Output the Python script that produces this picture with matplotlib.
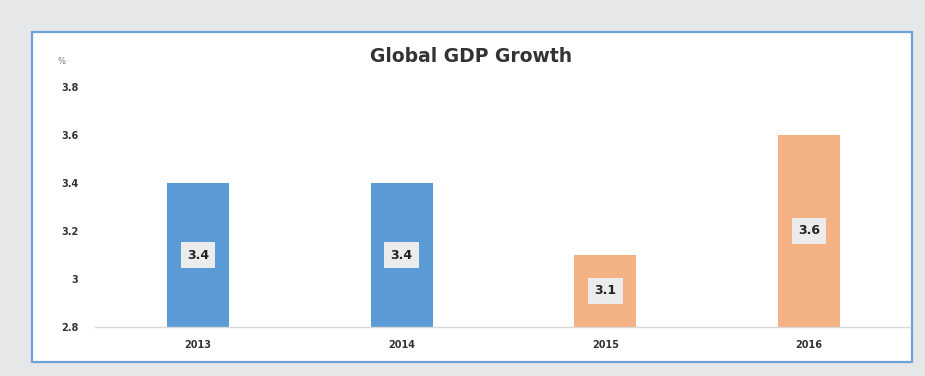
import matplotlib

matplotlib.use("Agg")
import matplotlib.pyplot as plt
from matplotlib.patches import Rectangle

years = ["2013", "2014", "2015", "2016"]
growth = [3.4, 3.4, 3.1, 3.6]
bar_colors = ["#5b9bd5", "#5b9bd5", "#f4b183", "#f4b183"]
y_ticks = [2.8, 3.0, 3.2, 3.4, 3.6, 3.8]
y_tick_labels = ["2.8", "3", "3.2", "3.4", "3.6", "3.8"]

W, H = 925, 376
fig = plt.figure(figsize=(W / 100, H / 100), dpi=100)
fig.patch.set_facecolor("#e6e7e9")

# white panel with a thin blue frame, kept behind the axes
panel = Rectangle((32 / W, 1 - 362 / H), 880 / W, 330 / H, transform=fig.transFigure,
                  facecolor="white", edgecolor="#6fa3d8", linewidth=1.6, zorder=-10)
fig.patches.append(panel)

ax = fig.add_axes([95 / W, 49 / H, 815 / W, 240 / H])
ax.set_facecolor("none")

x = range(len(years))
ax.bar(x, [g - 2.8 for g in growth], bottom=2.8, width=0.305, color=bar_colors, zorder=2)

for xi, g in zip(x, growth):
    ax.text(xi, (g + 2.8) / 2, f"{g:.1f}", ha="center", va="center", fontsize=9,
            fontweight="bold", color="#222222", zorder=3,
            bbox=dict(boxstyle="square,pad=0.5", facecolor="#ececec", edgecolor="none"))

ax.set_xlim(-0.505, 3.495)
ax.set_ylim(2.8, 3.8)
ax.set_xticks(list(x))
ax.set_xticklabels(years, fontsize=7, fontweight="bold", color="#333333")
ax.set_yticks(y_ticks)
ax.set_yticklabels(y_tick_labels, fontsize=7, fontweight="bold", color="#333333")
ax.tick_params(axis="both", length=0)
ax.tick_params(axis="y", pad=12)
ax.tick_params(axis="x", pad=9)

for side in ["top", "right", "left"]:
    ax.spines[side].set_visible(False)
ax.spines["bottom"].set_color("#d9d9d9")
ax.spines["bottom"].set_linewidth(1)

fig.text(471 / W, 1 - 57 / H, "Global GDP Growth", ha="center", va="center",
         fontsize=13.5, fontweight="bold", color="#333333")
fig.text(58 / W, 1 - 61 / H, "%", ha="left", va="center", fontsize=6, color="#777777")

fig.savefig("out.png", dpi=100, facecolor=fig.get_facecolor())
